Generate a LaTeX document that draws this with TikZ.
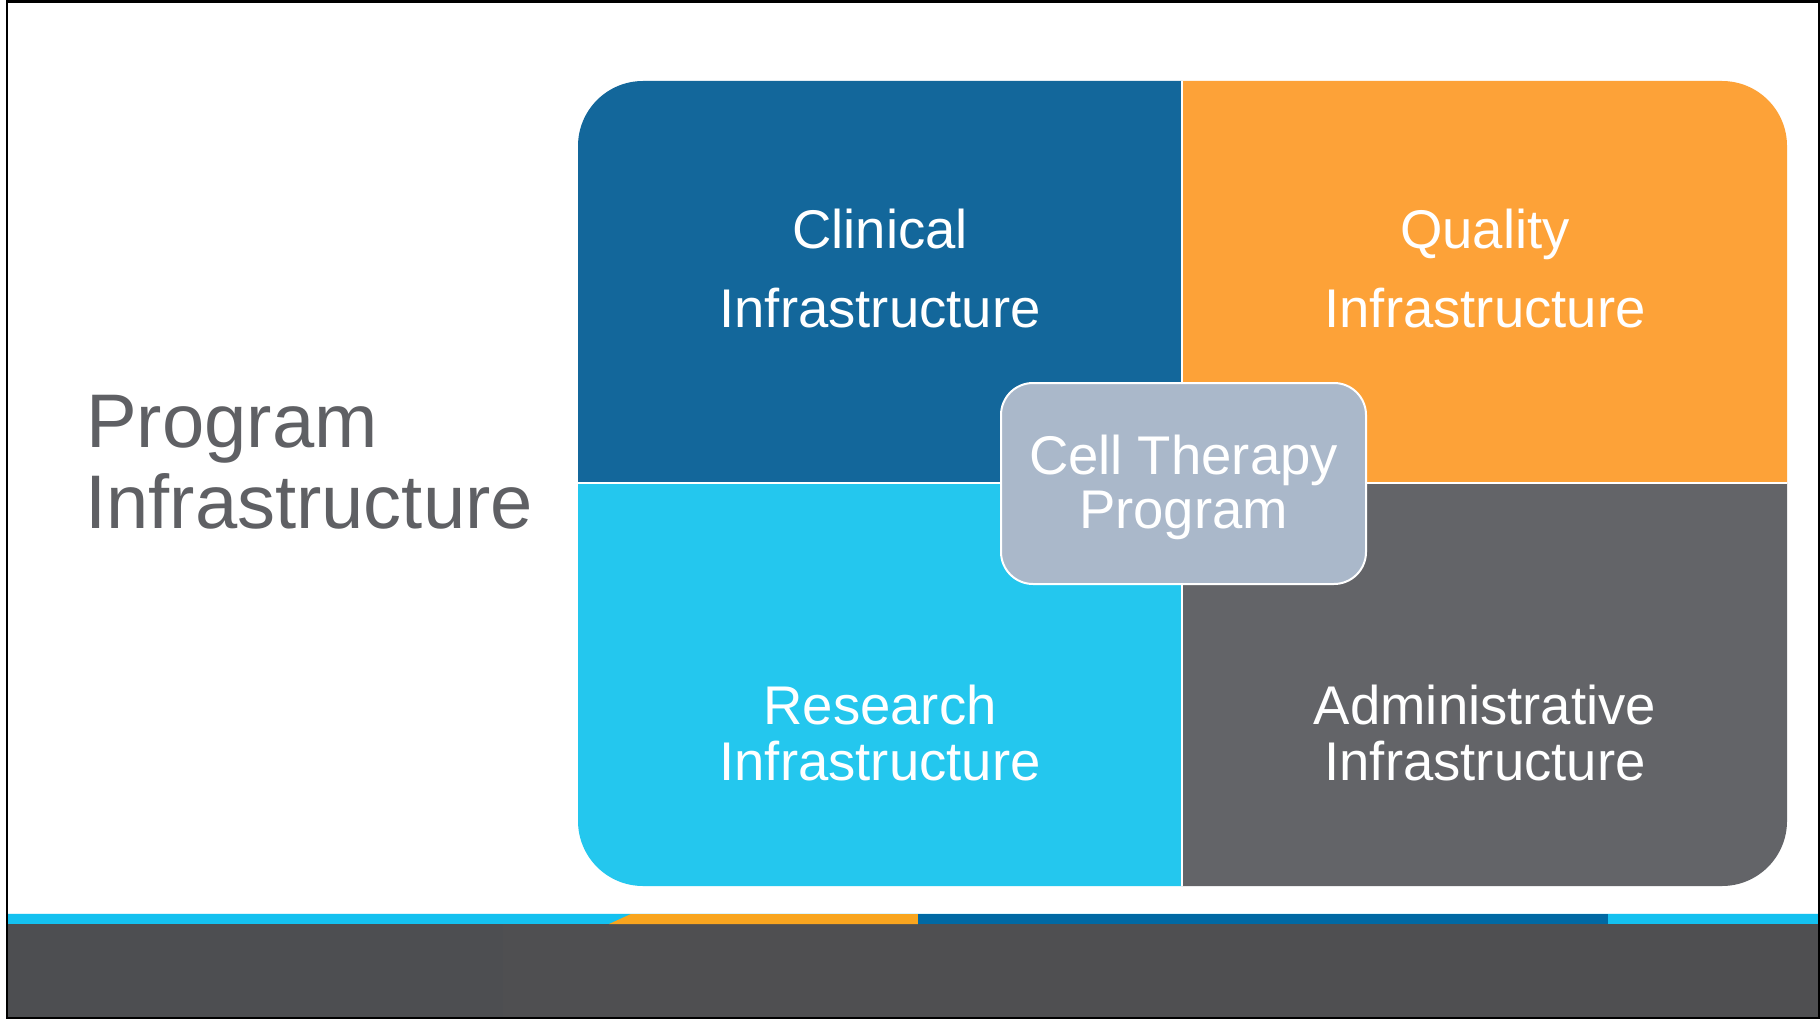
\documentclass[tikz,border=0pt]{standalone}
\usepackage{fontspec}
\setmainfont{Liberation Sans}
\definecolor{clinical}{HTML}{13679B}
\definecolor{quality}{HTML}{FDA238}
\definecolor{research}{HTML}{24C7EE}
\definecolor{admin}{HTML}{636468}
\definecolor{core}{HTML}{AAB8CA}
\definecolor{titlegray}{HTML}{5F6064}
\definecolor{barcyan}{HTML}{14C1F0}
\definecolor{barorange}{HTML}{F9A51E}
\definecolor{barblue}{HTML}{0069A4}
\definecolor{bardark}{HTML}{4F4F51}
\definecolor{bardarkL}{HTML}{4D4E51}
\begin{document}
\begin{tikzpicture}[x=1pt,y=-1pt,
  quadlabel/.style={text=white,inner sep=0pt,anchor=base,font=\fontsize{54.5}{60}\selectfont},
  titlelabel/.style={text=titlegray,inner sep=0pt,anchor=base west,font=\fontsize{76}{81}\selectfont},
  gapline/.style={draw=white,line width=2pt}]
\useasboundingbox (0,0) rectangle (1820,1019);
\fill[white] (0,0) rectangle (1820,1019);

% footer band
\fill[bardark] (7,924) rectangle (1819,1018);
\fill[bardarkL] (7,924) rectangle (503,1018);
\fill[barcyan] (7,913) rectangle (1819,924);
\fill[barorange] (633,913) -- (918,913) -- (918,924) -- (609,924) -- cycle;
\fill[barblue] (918,913) rectangle (1608,924);
\draw[white!85!barcyan,line width=0.8pt] (7,913.4) -- (1819,913.4);

% four quadrants (y axis points down, so arc angles are mirrored)
\def\qr{65}
\fill[clinical] (578,483) -- (578,81+\qr) arc[start angle=180,end angle=270,radius=\qr] -- (1182,81) -- (1182,483) -- cycle;
\fill[quality] (1182,81) -- (1787-\qr,81) arc[start angle=-90,end angle=0,radius=\qr] -- (1787,483) -- (1182,483) -- cycle;
\fill[research] (578,483) -- (1182,483) -- (1182,886) -- (578+\qr,886) arc[start angle=90,end angle=180,radius=\qr] -- cycle;
\fill[admin] (1182,483) -- (1787,483) -- (1787,886-\qr) arc[start angle=0,end angle=90,radius=\qr] -- (1182,886) -- cycle;
\draw[gapline] (1182,81) -- (1182,886);
\draw[gapline] (578,483) -- (1787,483);

% centre box
\node[draw=white,line width=2pt,fill=core,rounded corners=32pt,minimum width=365pt,minimum height=201pt,inner sep=0pt] (core) at (1183.5,483.5) {};

% labels
\node[titlelabel] (titleA) at (86,447) {Program};
\node[titlelabel] (titleB) at (85,528) {Infrastructure};

\node[quadlabel] (clinA) at (880,248) {Clinical};
\node[quadlabel] (clinB) at (880,327) {Infrastructure};
\node[quadlabel] (qualA) at (1485,248) {Quality};
\node[quadlabel] (qualB) at (1485,327) {Infrastructure};
\node[quadlabel] (resA) at (880,724) {Research};
\node[quadlabel] (resB) at (880,780) {Infrastructure};
\node[quadlabel] (admA) at (1485,724) {Administrative};
\node[quadlabel] (admB) at (1485,780) {Infrastructure};
\node[quadlabel] (coreA) at (1183.5,474) {Cell Therapy};
\node[quadlabel] (coreB) at (1183.5,528) {Program};

% slide frame
\draw[black,line width=2.2pt] (6.8,1.5) rectangle (1818.8,1017.8);
\end{tikzpicture}
\end{document}
